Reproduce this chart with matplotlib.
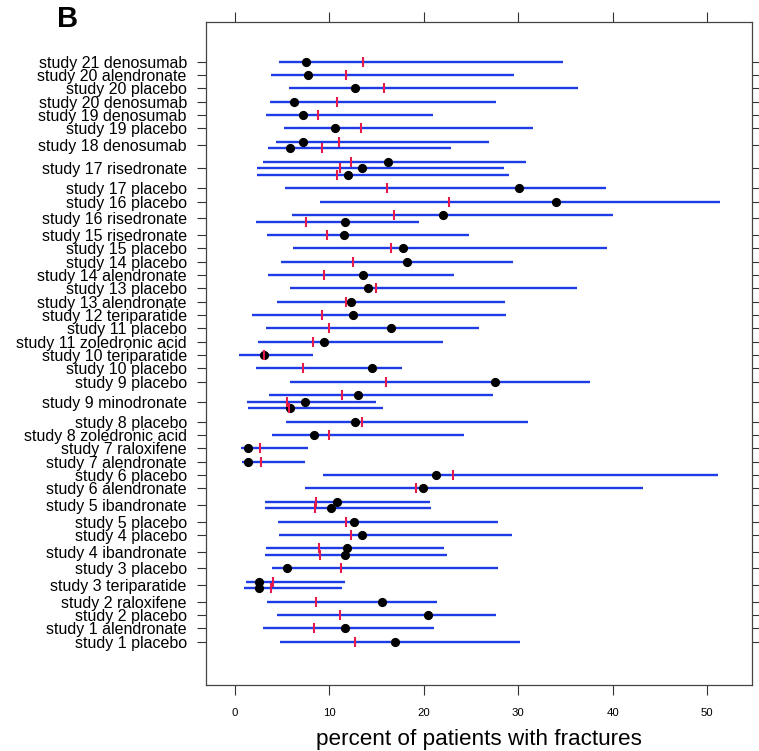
import numpy as np
import matplotlib
matplotlib.use("Agg")
import matplotlib.pyplot as plt

plt.rcParams['font.family'] = ['Liberation Sans', 'DejaVu Sans']

# one entry per interval line, bottom to top
labels = [
    "study 1 placebo", "study 1 alendronate", "study 2 placebo", "study 2 raloxifene",
    "study 3 teriparatide", "study 3 teriparatide", "study 3 placebo",
    "study 4 ibandronate", "study 4 ibandronate", "study 4 placebo",
    "study 5 placebo", "study 5 ibandronate", "study 5 ibandronate",
    "study 6 alendronate", "study 6 placebo", "study 7 alendronate", "study 7 raloxifene",
    "study 8 zoledronic acid", "study 8 placebo",
    "study 9 minodronate", "study 9 minodronate", "study 9 minodronate", "study 9 placebo",
    "study 10 placebo", "study 10 teriparatide", "study 11 zoledronic acid", "study 11 placebo",
    "study 12 teriparatide", "study 13 alendronate", "study 13 placebo",
    "study 14 alendronate", "study 14 placebo", "study 15 placebo", "study 15 risedronate",
    "study 16 risedronate", "study 16 risedronate", "study 16 placebo", "study 17 placebo",
    "study 17 risedronate", "study 17 risedronate", "study 17 risedronate",
    "study 18 denosumab", "study 18 denosumab", "study 19 placebo", "study 19 denosumab",
    "study 20 denosumab", "study 20 placebo", "study 20 alendronate", "study 21 denosumab",
]
lower = [4.76, 2.97, 4.45, 3.39, 1.02, 1.24, 3.98, 3.21, 3.35, 4.66, 4.58, 3.21, 3.18,
         7.5, 9.33, 0.75, 0.64, 3.95, 5.4, 1.41, 1.34, 3.63, 5.88, 2.23, 0.46, 2.44, 3.28,
         1.8, 4.45, 5.85, 3.5, 4.9, 6.2, 3.39, 2.23, 6.09, 9.05, 5.36, 2.4, 2.4, 3.03,
         3.5, 4.34, 5.25, 3.32, 3.74, 5.74, 3.84, 4.66]
upper = [30.24, 21.06, 27.63, 21.45, 11.34, 11.73, 27.89, 22.43, 22.11, 29.32, 27.92, 20.81, 20.71,
         43.2, 51.18, 7.47, 7.82, 24.26, 31.05, 15.67, 14.96, 27.36, 37.56, 17.71, 8.28, 22.0, 25.84,
         28.73, 28.66, 36.21, 23.24, 29.48, 39.43, 24.75, 19.47, 40.03, 51.36, 39.32, 29.0, 28.52, 30.88,
         22.88, 26.9, 31.62, 20.98, 27.68, 36.37, 29.54, 34.78]
observed = [16.94, 11.69, 20.5, 15.6, 2.54, 2.58, 5.5, 11.69, 11.9, 13.48, 12.61, 10.21, 10.81,
            19.93, 21.3, 1.41, 1.45, 8.38, 12.79, 5.88, 7.5, 13.1, 27.5, 14.51, 3.1, 9.47, 16.59,
            12.53, 12.29, 14.12, 13.59, 18.2, 17.81, 11.58, 11.69, 22.04, 34.04, 30.14, 12.0, 13.48, 16.2,
            5.88, 7.26, 10.6, 7.26, 6.27, 12.71, 7.82, 7.61]
expected = [12.71, 8.42, 11.13, 8.6, 3.81, 4.09, 11.24, 9.02, 8.91, 12.37, 11.84, 8.46, 8.63,
            19.23, 23.14, 2.79, 2.71, 9.97, 13.49, 5.78, 5.57, 11.41, 15.99, 7.25, 3.1, 8.31, 9.97,
            9.23, 11.76, 15.0, 9.44, 12.53, 16.59, 9.76, 7.54, 16.86, 22.67, 16.17, 10.85, 11.13, 12.29,
            9.2, 11.02, 13.42, 8.84, 10.85, 15.81, 11.76, 13.59]

# y positions: lines of the same label sit half a row apart
ypos = []
y = 0.0
for i, lab in enumerate(labels):
    if i > 0 and lab == labels[i - 1]:
        y += 0.5
    else:
        y += 1.0
    ypos.append(y)
ypos = np.array(ypos)

tick_labels = []
tick_pos = []
for lab, yy in zip(labels, ypos):
    if lab in tick_labels:
        continue
    tick_labels.append(lab)
    tick_pos.append(ypos[[l == lab for l in labels]].mean())

blue = '#1e3ce6'
red = '#e8194b'

fig = plt.figure(figsize=(7.59, 7.51), dpi=100)
ax = fig.add_axes([0.2709, 0.0874, 0.9912 - 0.2709, 0.9711 - 0.0874])

ax.hlines(ypos, lower, upper, color=blue, lw=1.7, zorder=2)
ax.plot(observed, ypos, 'o', color='black', ms=5.6, zorder=3)
ax.plot(expected, ypos, '|', color=red, ms=6.5, mew=1.5, zorder=4)

ax.set_xlim(-3.06, 54.77)
ax.set_ylim(-2.28, 47.5)

ax.set_xticks([0, 10, 20, 30, 40, 50])
ax.set_yticks(tick_pos)
ax.set_yticklabels(tick_labels, fontsize=11.5)
ax.tick_params(axis='x', direction='out', length=7.5, width=0.8, labelsize=8.2, pad=9,
               top=True, labeltop=False, color='#333333')
ax.tick_params(axis='y', direction='out', length=6.5, width=0.8, pad=7,
               right=True, labelright=False, color='#333333')
for sp in ax.spines.values():
    sp.set_color('#444444')
    sp.set_linewidth(0.9)

ax.set_xlabel("percent of patients with fractures", fontsize=16.2, labelpad=8)

fig.text(57 / 759, 1 - 26.7 / 751, 'B', fontsize=21, fontweight='bold',
         ha='left', va='baseline')

fig.savefig("out.png", dpi=100)
